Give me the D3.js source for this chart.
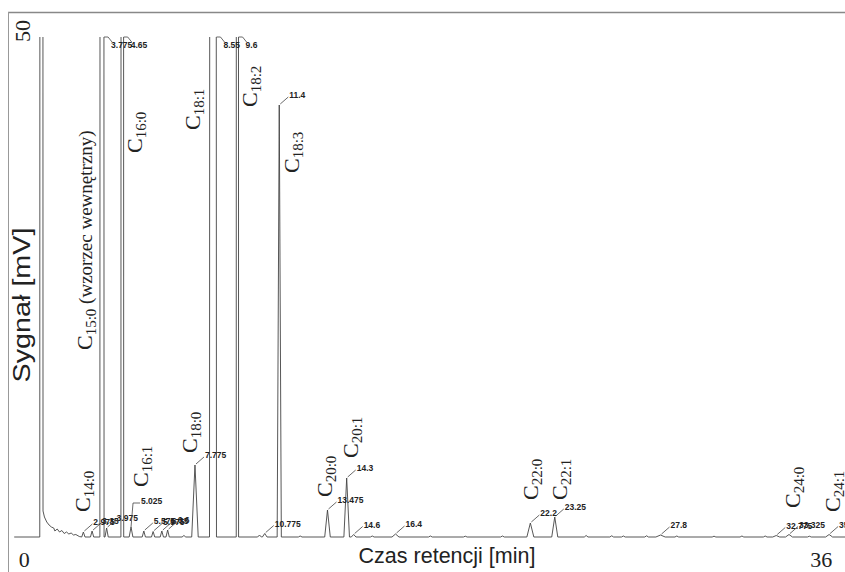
<!DOCTYPE html>
<html>
<head>
<meta charset="utf-8">
<script src="https://cdn.jsdelivr.net/npm/d3@7"></script>
<style>
  html, body { margin: 0; padding: 0; background: #fff; }
  svg { display: block; }
</style>
</head>
<body>
<svg id="chart" width="845" height="572"></svg>
<script>
// labelled peaks: retention time [min], height [mV], half width at base [min]
const peakTimes      = [2.975, 3.35, 3.775, 3.975, 4.65, 5.025, 5.575, 5.975, 6.35, 6.6, 7.775, 8.55, 9.6, 10.775, 11.4, 13.475, 14.3, 14.6, 16.4, 22.2, 23.25, 27.8, 32.775, 33.325, 35.05];
const peakHeights    = [0.5, 0.6, 900, 0.9, 700, 1.0, 0.6, 0.55, 0.6, 0.7, 7.2, 900, 900, 0.35, 43.2, 2.7, 5.9, 0.25, 0.3, 1.4, 2.0, 0.2, 0.15, 0.25, 0.25];
const peakHalfWidths = [0.07, 0.07, 0.09, 0.07, 0.06, 0.08, 0.07, 0.07, 0.07, 0.07, 0.14, 0.15, 0.05, 0.1, 0.09, 0.12, 0.12, 0.1, 0.15, 0.15, 0.13, 0.2, 0.15, 0.15, 0.15];

// small unlabelled bumps on the baseline
const noiseTimes   = [7.3, 10.55, 12.3, 15.4, 17.9, 19.4, 21.0, 24.6, 25.7, 26.2, 27.2, 28.5, 30.1, 31.3, 32.3, 34.2];
const noiseHeights = [0.15, 0.2, 0.1, 0.1, 0.1, 0.08, 0.1, 0.15, 0.12, 0.1, 0.12, 0.1, 0.08, 0.1, 0.1, 0.08];

// solvent peak and its tail [min, mV]
const solventTrace = [[1.10, 0], [1.17, 900], [1.24, 2.6], [1.3, 2.0], [1.4, 1.5], [1.5, 1.2], [1.6, 1.0],
  [1.7, 0.9], [1.75, 0.6], [1.85, 0.8], [1.95, 0.5], [2.05, 0.65], [2.15, 0.35], [2.25, 0.5],
  [2.35, 0.3], [2.45, 0.4], [2.55, 0.2], [2.65, 0.25], [2.8, 0.05]];

// fatty acid labels and the peak each belongs to
const compoundSubs  = ['14:0', '15:0', '16:0', '16:1', '18:0', '18:1', '18:2', '18:3', '20:0', '20:1', '22:0', '22:1', '24:0', '24:1'];
const compoundTimes = [2.975, 3.775, 4.65, 5.025, 7.775, 8.55, 9.6, 11.4, 13.475, 14.3, 22.2, 23.25, 32.775, 35.05];
const compoundNotes = ['', ' (wzorzec wewnętrzny)', '', '', '', '', '', '', '', '', '', '', '', ''];

const xTickLabels = ['0', '36'];
const yTickLabels = ['50'];

// label layout (px offset from the peak, bottom of the rotated text in mV)
const compoundDx     = [7, -10, 20, 17, 2, -13, 20, 20, 5, 11, 8, 12, 24, 11];
const compoundBottom = [2.5, 18.7, 38.4, 5.0, 8.4, 40.7, 43, 36.4, 4.0, 7.9, 3.7, 3.7, 2.9, 2.5];

const svg = d3.select('#chart');
const x = d3.scaleLinear().domain([0, 36]).range([14.2, 851.2]);
const y = d3.scaleLinear().domain([0, 50]).range([537, 37]);

// frame
svg.append('line').attr('x1', 8).attr('x2', 845).attr('y1', 12.5).attr('y2', 12.5)
  .attr('stroke', '#888').attr('stroke-width', 1.5);
svg.append('line').attr('x1', 8.5).attr('x2', 8.5).attr('y1', 12).attr('y2', 572)
  .attr('stroke', '#999').attr('stroke-width', 1);

// trace
const pts = [[0, 0]].concat(solventTrace);
const bumps = peakTimes.map((t, i) => ({ t, h: peakHeights[i], w: peakHalfWidths[i] }))
  .concat(noiseTimes.map((t, i) => ({ t, h: noiseHeights[i], w: 0.08 })))
  .sort((a, b) => a.t - b.t);
bumps.forEach(b => pts.push([b.t - b.w, 0], [b.t, b.h], [b.t + b.w, 0]));
pts.push([36.5, 0]);

svg.append('clipPath').attr('id', 'clip').append('rect')
  .attr('x', 9).attr('y', y(50)).attr('width', 840).attr('height', 572 - y(50));

const line = d3.line().x(d => x(d[0])).y(d => y(d[1]));
svg.append('path').datum(pts)
  .attr('clip-path', 'url(#clip)')
  .attr('d', line)
  .attr('fill', 'none')
  .attr('stroke', '#444')
  .attr('stroke-width', 0.9)
  .attr('stroke-linejoin', 'round');

// retention time labels with leaders
const ann = svg.append('g').attr('font-family', 'Liberation Sans, Arial, sans-serif')
  .attr('font-weight', 'bold').attr('font-size', 8.5).attr('fill', '#222');
peakTimes.forEach((t, i) => {
  const h = peakHeights[i];
  const px = x(t);
  if (h > 50) {
    const rx = x(t + peakHalfWidths[i]);
    ann.append('path').attr('d', `M${rx},${y(50)}L${rx + 4},${y(50)}L${rx + 8},${y(50) + 5}`)
      .attr('fill', 'none').attr('stroke', '#444').attr('stroke-width', 0.8);
    ann.append('text').attr('x', rx + 7).attr('y', y(50) + 11).text(String(t));
  } else {
    const ay = y(h);
    const lift = t === 5.025 ? 24 : 8;
    if (t === 5.025) {
      ann.append('path').attr('d', `M${px},${ay}L${px + 2},${ay - lift}L${px + 9},${ay - lift}`)
        .attr('fill', 'none').attr('stroke', '#444').attr('stroke-width', 0.8);
    } else {
      ann.append('path').attr('d', `M${px + 1},${ay - 1}L${px + 9},${ay - lift}`)
        .attr('fill', 'none').attr('stroke', '#444').attr('stroke-width', 0.8);
    }
    ann.append('text').attr('x', px + 10).attr('y', ay - lift + 1).text(String(t));
  }
});

// compound names, rotated
const comp = svg.append('g').attr('font-family', 'Liberation Serif, Times New Roman, serif').attr('fill', '#222');
compoundSubs.forEach((s, i) => {
  const bx = x(compoundTimes[i]) + compoundDx[i];
  const by = y(compoundBottom[i]);
  const tx = comp.append('text').attr('transform', `translate(${bx},${by}) rotate(-90)`);
  tx.append('tspan').attr('font-size', 22).text('C');
  tx.append('tspan').attr('font-size', 15).attr('dy', 4).text(s);
  if (compoundNotes[i]) tx.append('tspan').attr('font-size', 19).attr('dy', -4).text(compoundNotes[i]);
});

// corner tick labels
const ticks = svg.append('g').attr('font-family', 'Liberation Serif, Times New Roman, serif')
  .attr('font-size', 22).attr('fill', '#222').attr('text-anchor', 'middle');
ticks.append('text').attr('x', x(0) + 10).attr('y', 567).text(xTickLabels[0]);
ticks.append('text').attr('x', x(36) - 30).attr('y', 567).text(xTickLabels[1]);
ticks.append('text').attr('transform', `translate(30,${y(50) - 6}) rotate(-90)`).text(yTickLabels[0]);

// axis titles
const titles = svg.append('g').attr('font-family', 'Liberation Sans, Arial, sans-serif').attr('fill', '#222');
titles.append('text').attr('x', 447).attr('y', 563).attr('text-anchor', 'middle')
  .attr('font-size', 21.5).text('Czas retencji [min]');
titles.append('text').attr('transform', 'translate(29.5,305) rotate(-90) scale(1.25,1)')
  .attr('text-anchor', 'middle').attr('font-size', 23).text('Sygnał [mV]');
</script>
</body>
</html>
